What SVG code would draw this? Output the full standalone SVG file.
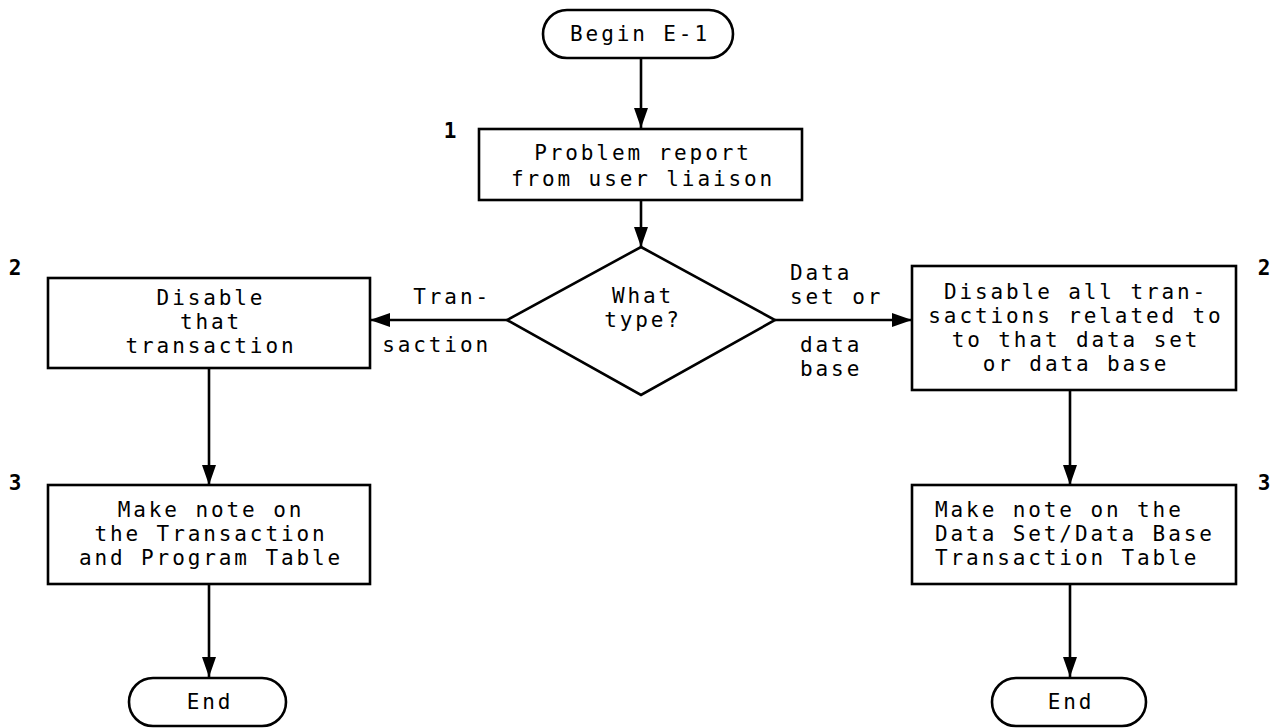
<svg xmlns="http://www.w3.org/2000/svg" width="1279" height="728" viewBox="0 0 1279 728">
  <style>
    .shape { fill: #ffffff; stroke: #000000; stroke-width: 2.6; }
    .edge { fill: none; stroke: #000000; stroke-width: 2.6; }
    .t { font-family: "DejaVu Sans Mono", "Liberation Mono", monospace; font-size: 21px; letter-spacing: 2.9px; fill: #000000; dominant-baseline: central; }
    .c { text-anchor: middle; }
    .e { text-anchor: end; }
    .num { font-family: "DejaVu Sans Mono", "Liberation Mono", monospace; font-size: 21px; font-weight: bold; fill: #000000; dominant-baseline: central; text-anchor: middle; }
  </style>
  <defs>
    <marker id="arrow" viewBox="0 0 20 14" refX="20" refY="7" markerWidth="20" markerHeight="14" markerUnits="userSpaceOnUse" orient="auto">
      <path d="M0,0 L20,7 L0,14 z" fill="#000000"/>
    </marker>
  </defs>
  <rect width="1279" height="728" fill="#ffffff"/>

  <!-- connectors -->
  <g id="connectors">
    <line class="edge" x1="641" y1="58" x2="641" y2="128" marker-end="url(#arrow)"/>
    <line class="edge" x1="641" y1="200" x2="641" y2="247" marker-end="url(#arrow)"/>
    <line class="edge" x1="507" y1="320" x2="370" y2="320" marker-end="url(#arrow)"/>
    <line class="edge" x1="775" y1="320" x2="912" y2="320" marker-end="url(#arrow)"/>
    <line class="edge" x1="209" y1="368" x2="209" y2="485" marker-end="url(#arrow)"/>
    <line class="edge" x1="1070" y1="390" x2="1070" y2="485" marker-end="url(#arrow)"/>
    <line class="edge" x1="209" y1="584" x2="209" y2="677" marker-end="url(#arrow)"/>
    <line class="edge" x1="1070" y1="584" x2="1070" y2="677" marker-end="url(#arrow)"/>
    <!-- branch labels -->
    <text class="t e" x="491" y="297">Tran-</text>
    <text class="t e" x="491" y="345">saction</text>
    <text class="t" x="790" y="273">Data</text>
    <text class="t" x="790" y="297">set or</text>
    <text class="t" x="800" y="345">data</text>
    <text class="t" x="800" y="369">base</text>
  </g>

  <!-- start terminator -->
  <g id="begin">
    <rect class="shape" x="543" y="10" width="190" height="48" rx="24" ry="24"/>
    <text class="t c" x="640" y="34">Begin E-1</text>
  </g>

  <!-- step 1 -->
  <g id="problem-report">
    <rect class="shape" x="479" y="129" width="323" height="71"/>
    <text class="num" x="450" y="131">1</text>
    <text class="t c" x="643" y="153">Problem report</text>
    <text class="t c" x="643" y="179">from user liaison</text>
  </g>

  <!-- decision -->
  <g id="decision">
    <polygon class="shape" points="641,247 775,320 641,395 507,320"/>
    <text class="t c" x="643" y="296">What</text>
    <text class="t c" x="643" y="320">type?</text>
  </g>

  <!-- step 2, transaction branch -->
  <g id="disable-transaction">
    <rect class="shape" x="48" y="278" width="322" height="90"/>
    <text class="num" x="15" y="268">2</text>
    <text class="t c" x="211" y="298">Disable</text>
    <text class="t c" x="211" y="322">that</text>
    <text class="t c" x="211" y="346">transaction</text>
  </g>

  <!-- step 2, data set / data base branch -->
  <g id="disable-all">
    <rect class="shape" x="912" y="266" width="324" height="124"/>
    <text class="num" x="1264" y="268">2</text>
    <text class="t c" x="1076" y="292">Disable all tran-</text>
    <text class="t c" x="1076" y="316">sactions related to</text>
    <text class="t c" x="1076" y="340">to that data set </text>
    <text class="t c" x="1076" y="364">or data base</text>
  </g>

  <!-- step 3, transaction branch -->
  <g id="note-transaction">
    <rect class="shape" x="48" y="485" width="322" height="99"/>
    <text class="num" x="15" y="483">3</text>
    <text class="t c" x="211" y="510">Make note on</text>
    <text class="t c" x="211" y="534">the Transaction</text>
    <text class="t c" x="211" y="558">and Program Table</text>
  </g>

  <!-- step 3, data set / data base branch -->
  <g id="note-database">
    <rect class="shape" x="912" y="485" width="324" height="99"/>
    <text class="num" x="1264" y="483">3</text>
    <text class="t" x="935" y="510">Make note on the</text>
    <text class="t" x="935" y="534">Data Set/Data Base</text>
    <text class="t" x="935" y="558">Transaction Table</text>
  </g>

  <!-- end terminators -->
  <g id="end-left">
    <rect class="shape" x="129" y="678" width="157" height="48" rx="24" ry="24"/>
    <text class="t c" x="210" y="702">End</text>
  </g>
  <g id="end-right">
    <rect class="shape" x="992" y="678" width="154" height="48" rx="24" ry="24"/>
    <text class="t c" x="1071" y="702">End</text>
  </g>
</svg>
